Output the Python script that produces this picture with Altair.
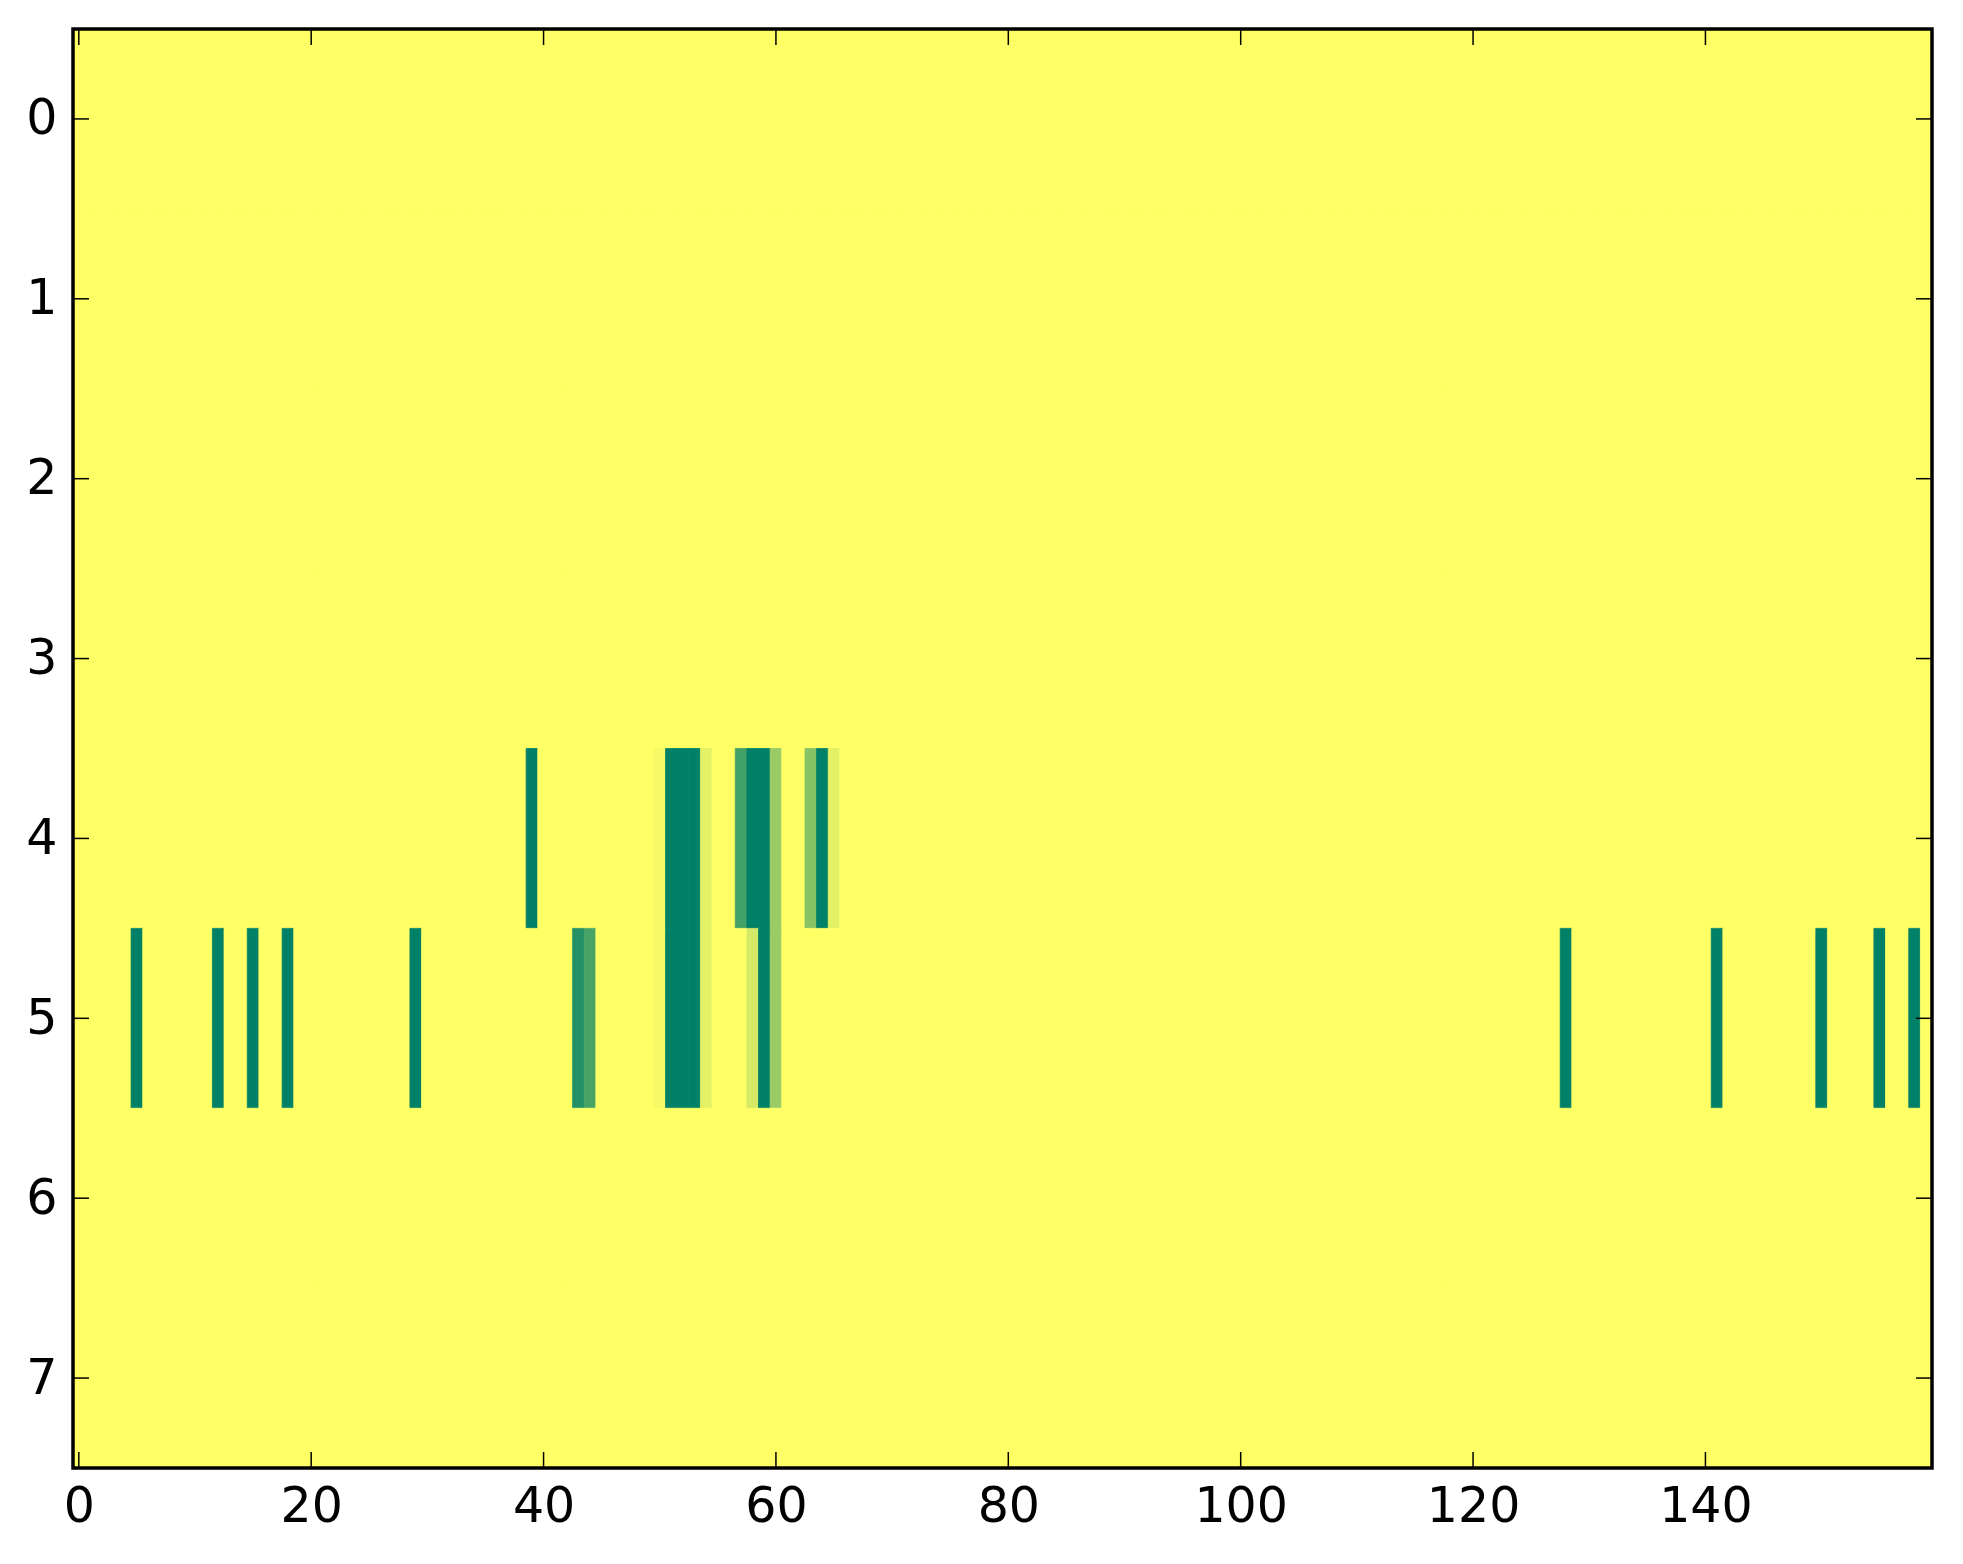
import altair as alt
import pandas as pd

# ---- data ----
n_rows = 8
n_cols = 160

row4_cols = [39, 50, 51, 52, 53, 54, 57, 58, 59, 60, 63, 64, 65]
row4_vals = [1.0, 0.04, 1.0, 1.0, 1.0, 0.11, 0.74, 1.0, 1.0, 0.40, 0.47, 1.0, 0.11]

row5_cols = [5, 12, 15, 18, 29, 43, 44, 50, 51, 52, 53, 54, 58, 59, 60,
             128, 141, 150, 155, 158]
row5_vals = [1.0, 1.0, 1.0, 1.0, 1.0, 0.86, 0.72, 0.04, 1.0, 1.0, 1.0, 0.11,
             0.17, 1.0, 0.40, 1.0, 1.0, 1.0, 1.0, 1.0]

x_ticks = [0, 20, 40, 60, 80, 100, 120, 140]
y_ticks = [0, 1, 2, 3, 4, 5, 6, 7]

# ---- build grid table ----
lookup = {}
for c, v in zip(row4_cols, row4_vals):
    lookup[(4, c)] = v
for c, v in zip(row5_cols, row5_vals):
    lookup[(5, c)] = v

recs = []
for r in range(n_rows):
    for c in range(n_cols):
        recs.append({"row": r, "col": c, "value": lookup.get((r, c), 0.0)})
grid = pd.DataFrame(recs)
grid["x0"] = grid["col"] - 0.5
grid["x1"] = grid["col"] + 0.5
grid["y0"] = grid["row"] - 0.5
grid["y1"] = grid["row"] + 0.5

W, H = 1859, 1439
TL = 16

xs = alt.Scale(domain=[-0.5, n_cols - 0.5], nice=False, zero=False)
ys = alt.Scale(domain=[-0.5, n_rows - 0.5], nice=False, zero=False, reverse=True)
cs = alt.Scale(domain=[0, 1], range=["#ffff66", "#008066"], interpolate="rgb")

font = "DejaVu Sans"
xaxis = alt.Axis(values=x_ticks, ticks=False, domain=False, grid=False, title=None,
                 labelFontSize=49, labelFont=font, labelColor="black", labelPadding=14,
                 format="d", labelFlush=False, labelOverlap=False)
yaxis = alt.Axis(values=y_ticks, ticks=False, domain=False, grid=False, title=None,
                 labelFontSize=49, labelFont=font, labelColor="black", labelPadding=16,
                 format="d", labelOverlap=False)

heat = alt.Chart(grid).mark_rect(strokeWidth=0.8).encode(
    x=alt.X("x0:Q", scale=xs, axis=xaxis),
    x2="x1:Q",
    y=alt.Y("y0:Q", scale=ys, axis=yaxis),
    y2="y1:Q",
    color=alt.Color("value:Q", scale=cs, legend=None),
    stroke=alt.Stroke("value:Q", scale=cs, legend=None),
)

xt = pd.DataFrame({"t": x_ticks})
yt = pd.DataFrame({"t": y_ticks})

xtick_bottom = alt.Chart(xt).mark_rule(color="black", strokeWidth=1.5).encode(
    x=alt.X("t:Q", scale=xs, axis=xaxis), y=alt.value(H), y2=alt.value(H - TL))
xtick_top = alt.Chart(xt).mark_rule(color="black", strokeWidth=1.5).encode(
    x=alt.X("t:Q", scale=xs, axis=xaxis), y=alt.value(0), y2=alt.value(TL))
ytick_left = alt.Chart(yt).mark_rule(color="black", strokeWidth=1.5).encode(
    y=alt.Y("t:Q", scale=ys, axis=yaxis), x=alt.value(0), x2=alt.value(TL))
ytick_right = alt.Chart(yt).mark_rule(color="black", strokeWidth=1.5).encode(
    y=alt.Y("t:Q", scale=ys, axis=yaxis), x=alt.value(W - TL), x2=alt.value(W))

frame = alt.Chart(pd.DataFrame({"a": [0]})).mark_rect(
    filled=False, stroke="black", strokeWidth=3.5, fill=None
).encode(x=alt.value(0), x2=alt.value(W), y=alt.value(0), y2=alt.value(H))

chart = alt.layer(heat, xtick_bottom, xtick_top, ytick_left, ytick_right, frame).properties(
    width=W, height=H,
    autosize=alt.AutoSizeParams(type="none"),
    padding={"left": 65, "top": 21, "right": 20, "bottom": 80},
).configure_view(stroke=None, fill="#ffff66").configure(background="white")

chart.save("out.html", embed_options={"renderer": "svg", "actions": False})
